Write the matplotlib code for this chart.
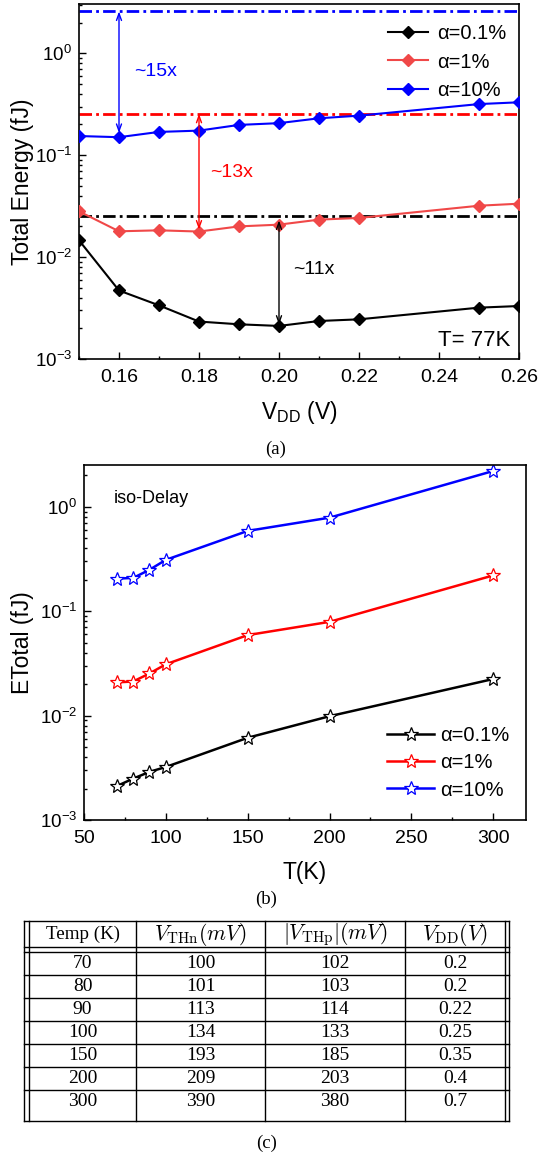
import matplotlib
matplotlib.use('Agg')
import matplotlib.pyplot as plt
from matplotlib.ticker import MultipleLocator, FormatStrFormatter

plt.rcParams['font.family'] = ['Liberation Sans', 'DejaVu Sans']
plt.rcParams['axes.linewidth'] = 1.2

# --- (a) total energy vs VDD at 77K ---
vdd = [0.15, 0.16, 0.17, 0.18, 0.19, 0.20, 0.21, 0.22, 0.25, 0.26]
e_a01 = [0.0146, 0.0047, 0.00336, 0.00233, 0.00219, 0.00211, 0.00236, 0.00245, 0.00319, 0.00331]
e_a1 = [0.0281, 0.0179, 0.0183, 0.0178, 0.0200, 0.0208, 0.0233, 0.0242, 0.0319, 0.0334]
e_a10 = [0.154, 0.150, 0.169, 0.174, 0.198, 0.206, 0.230, 0.244, 0.317, 0.330]
ref_levels = [0.0251, 0.255, 2.57]          # 300K reference energies
arrow_x = [0.20, 0.18, 0.16]
arrow_lo = [0.00217, 0.0186, 0.165]
arrow_hi = [0.0229, 0.255, 2.57]
ratio_labels = ['~11x', '~13x', '~15x']
ratio_pos = [(0.2036, 0.0075), (0.1828, 0.0676), (0.1638, 0.66)]

# --- (b) iso-delay energy vs temperature ---
temps = [70, 80, 90, 100, 150, 200, 300]
b_a01 = [0.00211, 0.00249, 0.00289, 0.00322, 0.00613, 0.00986, 0.0224]
b_a1 = [0.0208, 0.0212, 0.0253, 0.031, 0.059, 0.079, 0.22]
b_a10 = [0.205, 0.208, 0.249, 0.31, 0.587, 0.786, 2.2]

labels = ['α=0.1%', 'α=1%', 'α=10%']

# --- (c) table ---
tab_header = ['Temp (K)', r'$V_{\mathrm{THn}}(mV)$', r'$|V_{\mathrm{THp}}|(mV)$', r'$V_{\mathrm{DD}}(V)$']
tab_temp = ['70', '80', '90', '100', '150', '200', '300']
tab_vthn = ['100', '101', '113', '134', '193', '209', '390']
tab_vthp = ['102', '103', '114', '133', '185', '203', '380']
tab_vdd = ['0.2', '0.2', '0.22', '0.25', '0.35', '0.4', '0.7']

W, H = 542, 1157
fig = plt.figure(figsize=(W / 100, H / 100), dpi=100)


def px_axes(left, top, right, bottom):
    return fig.add_axes([left / W, 1 - bottom / H, (right - left) / W, (bottom - top) / H])


def style_axes(ax):
    ax.set_yscale('log')
    ax.tick_params(which='both', direction='in', top=False, right=False, width=1)
    ax.tick_params(which='major', length=4.8)
    ax.tick_params(which='minor', length=2.4)
    ax.tick_params(axis='x', pad=7, labelsize=14)
    ax.tick_params(axis='y', pad=5, labelsize=13.5)


# panel (a)
ax = px_axes(79, 4, 519, 359)
style_axes(ax)
cols_a = ['black', '#F04848', 'blue']
for lvl, c in zip(ref_levels, ['black', 'red', 'blue']):
    ax.axhline(lvl, color=c, lw=2, dashes=(4.5, 1.5, 1, 1.5), zorder=1)
for ys, c, lab in zip([e_a01, e_a1, e_a10], cols_a, labels):
    ax.plot(vdd, ys, color=c, lw=1.5, marker='D', ms=6, label=lab, zorder=3)
for x, lo, hi, c in zip(arrow_x, arrow_lo, arrow_hi, ['black', 'red', 'blue']):
    ax.annotate('', xy=(x, lo), xytext=(x, hi),
                arrowprops=dict(arrowstyle='<->,head_length=0.5,head_width=0.18',
                                color=c, lw=1, shrinkA=0, shrinkB=0), zorder=4)
for txt, (x, y), c in zip(ratio_labels, ratio_pos, ['black', 'red', 'blue']):
    ax.text(x, y, txt, color=c, fontsize=14, ha='left', va='center')
ax.text(0.98, 0.0535, 'T= 77K', transform=ax.transAxes, fontsize=16, ha='right', va='center')
ax.set_xlim(0.15, 0.26)
ax.set_ylim(1e-3, 3.04)
ax.xaxis.set_major_locator(MultipleLocator(0.02))
ax.xaxis.set_minor_locator(MultipleLocator(0.01))
ax.xaxis.set_major_formatter(FormatStrFormatter('%.2f'))
ax.set_xlabel(r'V$_{\mathregular{DD}}$ (V)', fontsize=16.5)
ax.set_ylabel('Total Energy (fJ)', fontsize=16.5)
ax.xaxis.set_label_coords(0.5, -0.15)
ax.xaxis.label.set_va('center')
ax.yaxis.set_label_coords(-0.1295, 0.5)
ax.yaxis.label.set_va('center')
ax.legend(loc='upper right', bbox_to_anchor=(0.99, 0.965), borderaxespad=0, frameon=False,
          fontsize=14.5, handlelength=2.0, handletextpad=0.45, labelspacing=0.45)

# panel (b)
bx = px_axes(84, 465, 526, 820)
style_axes(bx)
for ys, c, lab in zip([b_a01, b_a1, b_a10], ['black', 'red', 'blue'], labels):
    bx.plot(temps, ys, color=c, lw=1.8, marker='*', ms=10, mfc='white', mec=c, mew=0.9, label=lab)
bx.text(0.068, 0.906, 'iso-Delay', transform=bx.transAxes, fontsize=13, ha='left', va='center')
bx.set_xlim(50, 320)
bx.set_ylim(1e-3, 2.51)
bx.xaxis.set_major_locator(MultipleLocator(50))
bx.xaxis.set_minor_locator(MultipleLocator(25))
bx.set_xlabel('T(K)', fontsize=16.5)
bx.set_ylabel('ETotal (fJ)', fontsize=16.5)
bx.xaxis.set_label_coords(0.5, -0.149)
bx.xaxis.label.set_va('center')
bx.yaxis.set_label_coords(-0.14, 0.5)
bx.yaxis.label.set_va('center')
bx.legend(loc='lower right', bbox_to_anchor=(0.98, 0.035), borderaxespad=0, frameon=False,
          fontsize=14.5, handlelength=2.3, handletextpad=0.3, labelspacing=0.4)

# overlay in pixel coordinates for captions and the table
ov = fig.add_axes([0, 0, 1, 1])
ov.set_xlim(0, W)
ov.set_ylim(H, 0)
ov.axis('off')
serif = ['Liberation Serif', 'DejaVu Serif']
for cap, x, y in zip(['(a)', '(b)', '(c)'], [276, 266, 267], [449, 899, 1143]):
    ov.text(x, y, cap, family=serif, fontsize=13.5, ha='center', va='center')

x_lines = [24, 28.5, 136, 265, 405, 505, 509]
top, head_bot, body_top, row_h, bottom = 921, 947, 952, 23, 1121
lw = 1
for x in x_lines:
    ov.plot([x, x], [top, bottom], color='black', lw=lw)
for y in [top, head_bot, body_top, bottom] + [body_top + row_h * k for k in range(1, 7)]:
    ov.plot([x_lines[0], x_lines[-1]], [y, y], color='black', lw=lw)
col_c = [82.5, 200.5, 335, 455]
for i, (txt, xc) in enumerate(zip(tab_header, col_c)):
    ov.text(xc, (top + head_bot) / 2, txt, family=serif, math_fontfamily='cm',
            fontsize=13.7 if i == 0 else 15.5, ha='center', va='center')
for i, row in enumerate(zip(tab_temp, tab_vthn, tab_vthp, tab_vdd)):
    yc = body_top + row_h * i + row_h / 2
    for txt, xc in zip(row, col_c):
        ov.text(xc, yc, txt, family=serif, fontsize=14, ha='center', va='center')

fig.savefig('out.png', dpi=100)
